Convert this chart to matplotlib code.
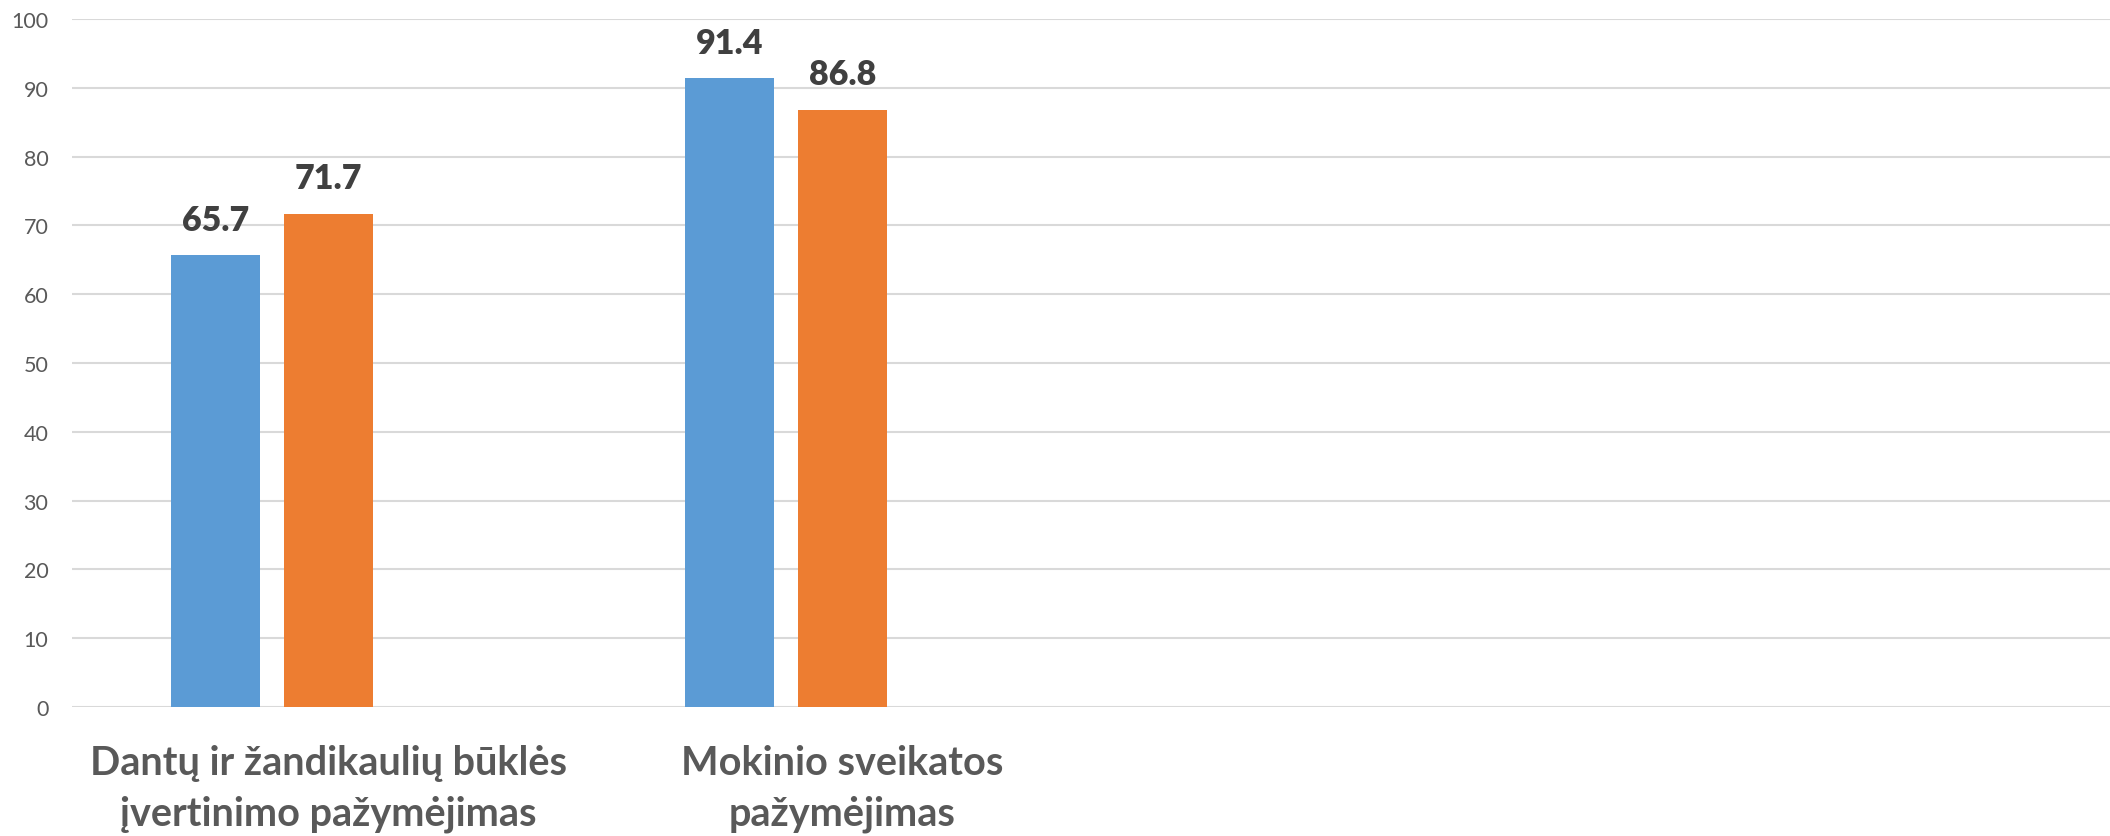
import matplotlib
matplotlib.use("Agg")
import matplotlib.pyplot as plt
import numpy as np

categories = ["Dantų ir žandikaulių būklės\nįvertinimo pažymėjimas",
              "Mokinio sveikatos\npažymėjimas", "", ""]
series_a = [65.7, 91.4]
series_b = [71.7, 86.8]
yticks = [0, 10, 20, 30, 40, 50, 60, 70, 80, 90, 100]

plt.rcParams['font.family'] = ['Lato', 'DejaVu Sans']

fig = plt.figure(figsize=(21.1, 8.37), dpi=100)
ax = fig.add_axes([72 / 2110, 1 - 708 / 837, 2054 / 2110, 688 / 837])

x = np.arange(len(series_a))
slot = 0.22
width = 0.173
bars_a = ax.bar(x - slot, series_a, width, color="#5B9BD5", zorder=3)
bars_b = ax.bar(x, series_b, width, color="#ED7D31", zorder=3)

for bars in (bars_a, bars_b):
    for b in bars:
        ax.annotate(f"{b.get_height():.1f}", (b.get_x() + b.get_width() / 2, b.get_height()),
                    xytext=(0, 14), textcoords="offset points", ha="center", va="bottom",
                    fontsize=24.5, fontweight="heavy", color="#404040")

ax.set_xlim(-0.5, 3.5)
ax.set_ylim(0, 100)
ax.set_yticks(yticks)
ax.set_xticks(np.arange(len(categories)))
ax.set_xticklabels(categories, fontsize=28.5, fontweight="bold", color="#595959", linespacing=1.42)
ax.tick_params(axis="x", length=0, pad=27)
ax.tick_params(axis="y", length=0, pad=17, labelsize=15.5, labelcolor="#595959")
ax.grid(axis="y", color="#D9D9D9", linewidth=1.5, zorder=0)
for s in ax.spines.values():
    s.set_visible(False)

fig.savefig("out.png", dpi=100)
